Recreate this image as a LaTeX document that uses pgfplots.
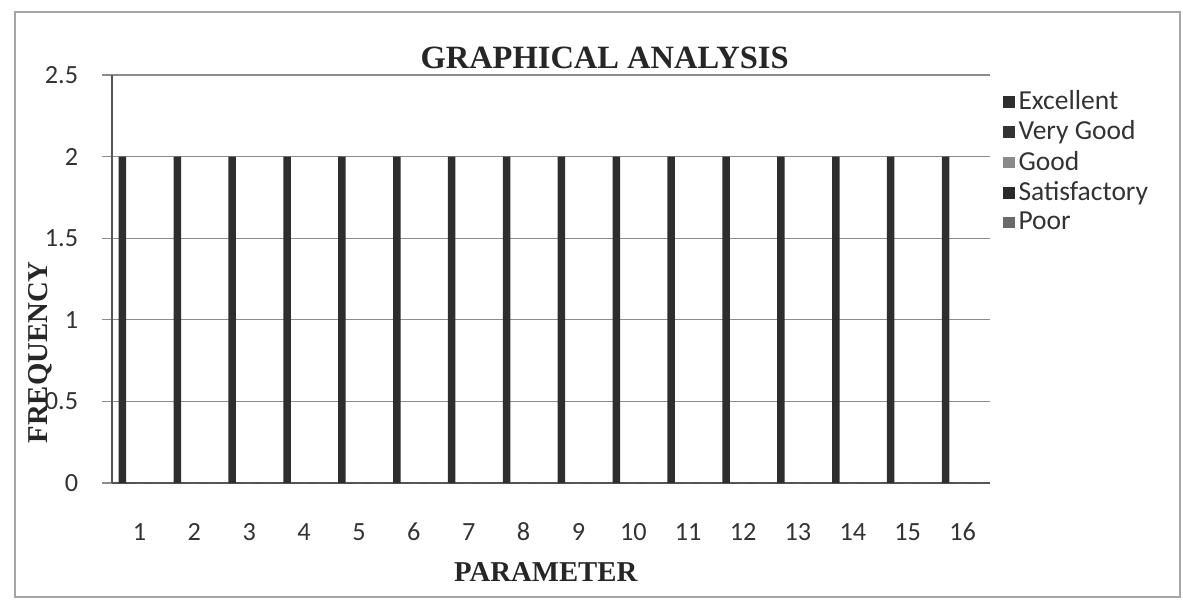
\documentclass[border=0pt]{standalone}
\usepackage{fontspec}
\usepackage{pgfplots}
\pgfplotsset{compat=1.18}
\setmainfont{Liberation Serif}
\newfontfamily\carlito{Carlito}
\definecolor{barexc}{HTML}{2E2E2E}
\definecolor{barvg}{HTML}{333333}
\definecolor{bargood}{HTML}{8A8A8A}
\definecolor{barsat}{HTML}{2A2A2A}
\definecolor{barpoor}{HTML}{6A6A6A}
\definecolor{gridgray}{HTML}{8C8C8C}
\definecolor{axisgray}{HTML}{555555}

\begin{document}
\begin{tikzpicture}
\useasboundingbox (-44.8pt,-48pt) rectangle (428.4pt,193.2pt);
\begin{axis}[
  scale only axis,
  width=351.2pt, height=163.2pt,
  ybar, bar width=3pt,
  xmin=0.5, xmax=16.5,
  ymin=0, ymax=2.5,
  xtick={1,...,16},
  ytick={0,0.5,1,1.5,2,2.5},
  yticklabels={0,0.5,1,1.5,2,2.5},
  axis lines=left,
  axis line style={-, draw=axisgray, line width=0.7pt},
  ymajorgrids,
  grid style={draw=gridgray, line width=0.5pt},
  tick align=outside,
  major tick length=4pt,
  xtick style={draw=none},
  ytick style={draw=gridgray, line width=0.5pt},
  tick label style={font=\carlito\fontsize{10.5}{12}\selectfont, text=black!80},
  /pgf/number format/assume math mode=true,
  x tick label style={anchor=base, yshift=-19pt},
  y tick label style={anchor=east, xshift=-6pt},
  every axis title shift=0pt,
  title={GRAPHICAL ANALYSIS},
  title style={at={(rel axis cs:0.561,1)}, anchor=base, yshift=2.8pt,
    font=\bfseries\fontsize{13}{15}\selectfont, text=black!85},
  xlabel={PARAMETER},
  ylabel={FREQUENCY},
  every axis x label/.style={at={(rel axis cs:0.494,0)}, anchor=center,
    yshift=-35.6pt, font=\bfseries\fontsize{11.5}{13}\selectfont, text=black!85},
  every axis y label/.style={at={(rel axis cs:0,0.32)}, rotate=90, anchor=center,
    yshift=28.8pt, font=\bfseries\fontsize{11.5}{13}\selectfont, text=black!85},
  legend style={at={(rel axis cs:1.006,0.985)}, anchor=north west,
    draw=none, fill=none, font=\carlito\fontsize{11}{12}\selectfont,
    text=black!80, row sep=0pt,
    nodes={inner sep=1.5pt}},
  legend cell align=left,
  legend image code/.code={\fill[#1] (0pt,-2.3pt) rectangle (4.6pt,2.3pt);},
]
\addplot[fill=barexc, draw=none, bar shift=-6.8pt] coordinates {
  (1,2) (2,2) (3,2) (4,2) (5,2) (6,2) (7,2) (8,2)
  (9,2) (10,2) (11,2) (12,2) (13,2) (14,2) (15,2) (16,2)
};
\addlegendentry{Excellent}
\addplot[fill=barvg, draw=none, bar shift=-3.4pt] coordinates {
  (1,0) (2,0) (3,0) (4,0) (5,0) (6,0) (7,0) (8,0)
  (9,0) (10,0) (11,0) (12,0) (13,0) (14,0) (15,0) (16,0)
};
\addlegendentry{Very Good}
\addplot[fill=bargood, draw=none, bar shift=0pt] coordinates {
  (1,0) (2,0) (3,0) (4,0) (5,0) (6,0) (7,0) (8,0)
  (9,0) (10,0) (11,0) (12,0) (13,0) (14,0) (15,0) (16,0)
};
\addlegendentry{Good}
\addplot[fill=barsat, draw=none, bar shift=3.4pt] coordinates {
  (1,0) (2,0) (3,0) (4,0) (5,0) (6,0) (7,0) (8,0)
  (9,0) (10,0) (11,0) (12,0) (13,0) (14,0) (15,0) (16,0)
};
\addlegendentry{Satisfactory}
\addplot[fill=barpoor, draw=none, bar shift=6.8pt] coordinates {
  (1,0) (2,0) (3,0) (4,0) (5,0) (6,0) (7,0) (8,0)
  (9,0) (10,0) (11,0) (12,0) (13,0) (14,0) (15,0) (16,0)
};
\addlegendentry{Poor}
\end{axis}
% chart area frame
\draw[gray!70, line width=0.8pt] (-38.8pt,-45.6pt) rectangle (427.2pt,188.4pt);
\end{tikzpicture}
\end{document}
